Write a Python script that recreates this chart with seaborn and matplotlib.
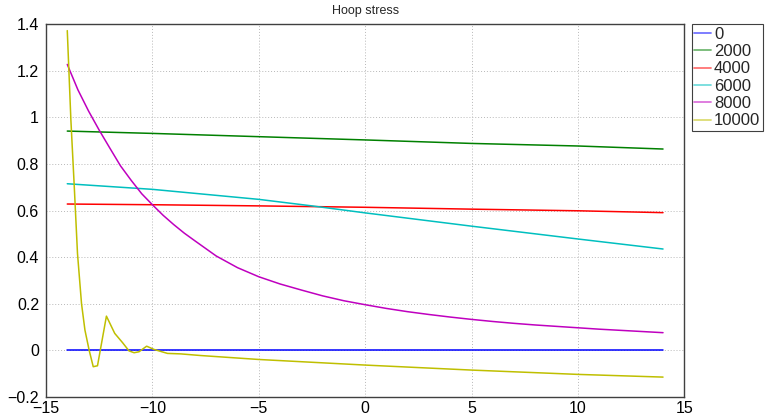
import matplotlib
matplotlib.use("Agg")
import matplotlib.pyplot as plt
import seaborn as sns
import pandas as pd

# ---- data ----
series_names = ["0", "2000", "4000", "6000", "8000", "10000"]
series_colors = ["b", "g", "r", "c", "m", "y"]

x_0 = [-14, 14]
y_0 = [0.0, 0.0]

x_2000 = [-14, -10, -5, 0, 5, 10, 14]
y_2000 = [0.941, 0.931, 0.917, 0.903, 0.888, 0.877, 0.864]

x_4000 = [-14, -10, -5, 0, 5, 10, 14]
y_4000 = [0.628, 0.625, 0.620, 0.614, 0.606, 0.599, 0.591]

x_6000 = [-14, -10, -5, -2.5, 0, 5, 10, 14]
y_6000 = [0.715, 0.691, 0.648, 0.620, 0.590, 0.533, 0.478, 0.435]

x_8000 = [-14, -13.5, -13, -12.5, -12, -11.5, -11, -10.5, -10, -9.5, -9,
          -8.5, -8, -7, -6, -5, -4, -3, -2, -1, 0, 1, 2, 3, 4, 5, 6, 7, 8,
          9, 10, 11, 12, 13, 14]
y_8000 = [1.227, 1.118, 1.027, 0.945, 0.868, 0.792, 0.730, 0.672, 0.625,
          0.580, 0.540, 0.503, 0.470, 0.405, 0.355, 0.316, 0.285, 0.259,
          0.234, 0.213, 0.196, 0.180, 0.166, 0.154, 0.143, 0.133, 0.124,
          0.116, 0.109, 0.103, 0.097, 0.091, 0.086, 0.081, 0.076]

x_10000 = [-14, -13.83, -13.67, -13.52, -13.33, -13.17, -12.97, -12.78, -12.58,
           -12.16, -11.77, -11.40, -11.10, -10.86, -10.63, -10.27, -9.92, -9.29,
           -8.67, -7.74, -5, 0, 5, 10, 14]
y_10000 = [1.372, 0.988, 0.700, 0.416, 0.200, 0.087, 0.000, -0.070, -0.066,
           0.147, 0.073, 0.033, -0.002, -0.010, -0.006, 0.018, 0.004, -0.013,
           -0.015, -0.022, -0.039, -0.063, -0.0845, -0.103, -0.1146]

x_ticks = [-15, -10, -5, 0, 5, 10, 15]
x_tick_labels = ["\u221215", "\u221210", "\u22125", "0", "5", "10", "15"]
y_ticks = [-0.2, 0, 0.2, 0.4, 0.6, 0.8, 1.0, 1.2, 1.4]
y_tick_labels = ["\u22120.2", "0", "0.2", "0.4", "0.6", "0.8", "1", "1.2", "1.4"]
title_text = "Hoop stress"

# ---- build long-form table ----
xs = [x_0, x_2000, x_4000, x_6000, x_8000, x_10000]
ys = [y_0, y_2000, y_4000, y_6000, y_8000, y_10000]
frames = []
for name, xv, yv in zip(series_names, xs, ys):
    frames.append(pd.DataFrame({"x": xv, "y": yv, "series": name}))
df = pd.concat(frames, ignore_index=True)

sns.set_style("white")
plt.rcParams["font.family"] = ["Liberation Sans", "DejaVu Sans"]

W, H = 766, 419
fig = plt.figure(figsize=(W / 100, H / 100), dpi=100)
ax = fig.add_axes([46 / W, 1 - 397 / H, (684.3 - 46) / W, (397 - 24.1) / H])

palette = dict(zip(series_names, series_colors))
sns.lineplot(data=df, x="x", y="y", hue="series", hue_order=series_names,
             palette=palette, sort=False, estimator=None, linewidth=1.1, ax=ax)

ax.set_xlim(-15, 15)
ax.set_ylim(-0.2, 1.4)
ax.set_xticks(x_ticks)
ax.set_xticklabels(x_tick_labels)
ax.set_yticks(y_ticks)
ax.set_yticklabels(y_tick_labels)
ax.set_xlabel("")
ax.set_ylabel("")
ax.set_title(title_text, fontsize=9, pad=7)

ax.grid(True, linestyle=(0, (1, 2)), color="#b8b8b8", linewidth=0.7)
for sp in ax.spines.values():
    sp.set_color("#404040")
    sp.set_linewidth(1.0)
    sp.set_visible(True)
ax.tick_params(axis="both", labelsize=11.5, direction="in", length=3,
               color="#404040", labelcolor="black")
ax.tick_params(axis="x", pad=3)
ax.tick_params(axis="y", pad=5)

leg = ax.legend(loc="upper left", bbox_to_anchor=(691.5 / W, 1 - 24.3 / H),
                bbox_transform=fig.transFigure, borderaxespad=0, frameon=True,
                fancybox=False, framealpha=1, edgecolor="#404040", fontsize=12,
                handlelength=1.0, handletextpad=0.2, labelspacing=0.14,
                borderpad=0.15, title=None)
leg.get_frame().set_linewidth(0.8)
for h in leg.legend_handles:
    h.set_alpha(0.55)
    h.set_linewidth(1.3)

fig.savefig("out.png", dpi=100)
